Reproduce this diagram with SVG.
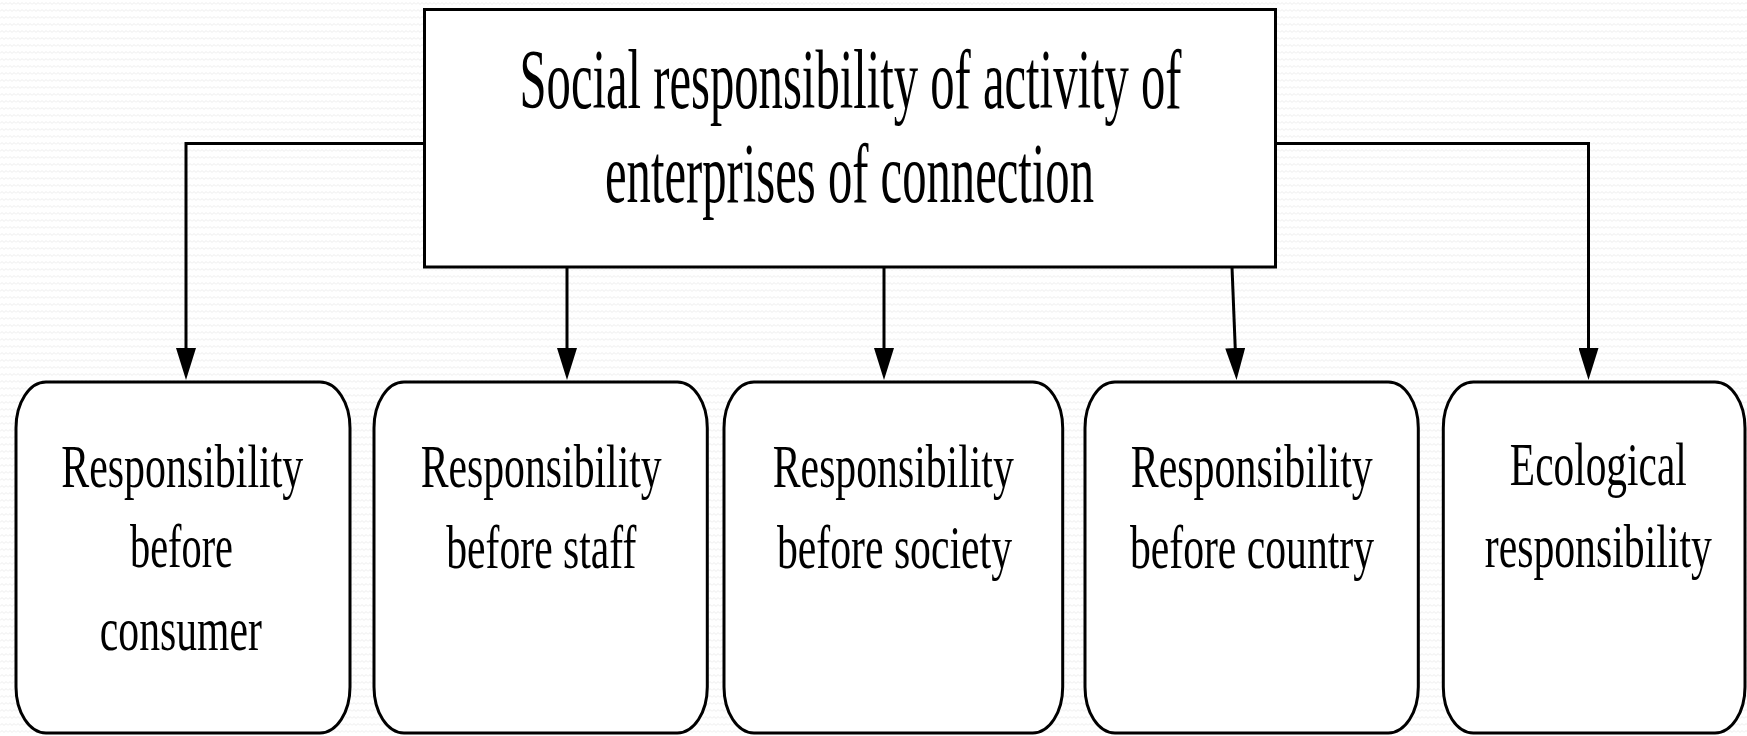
<svg xmlns="http://www.w3.org/2000/svg" width="1747" height="736" viewBox="0 0 1747 736">
<style>
.box{fill:#fff;stroke:#000;stroke-width:3}
.t1{font-family:"Liberation Serif","Times New Roman",serif;font-size:85px;fill:#000;text-anchor:middle}
.t2{font-family:"Liberation Serif","Times New Roman",serif;font-size:62px;fill:#000;text-anchor:middle}
.conn{fill:none;stroke:#000;stroke-width:3}
</style>
<defs>
<pattern id="bg" width="8" height="7" patternUnits="userSpaceOnUse">
<path d="M0,4.5 L2,2.5 L4,4.5 L6,2.5 L8,4.5" fill="none" stroke="#ececec" stroke-width="1"/>
</pattern>
<marker id="arr" markerUnits="userSpaceOnUse" viewBox="0 -10 32 20" markerWidth="32" markerHeight="20" refX="24" refY="0" orient="auto">
<path d="M0,-10 L32,0 L0,10 Z" fill="#000"/>
</marker>
</defs>
<rect width="1747" height="736" fill="#fff"/>
<rect width="1747" height="736" fill="url(#bg)"/>
<g id="connectors">
<path class="conn" d="M424.5,143.5 H186 V372" marker-end="url(#arr)"/>
<path class="conn" d="M1275.6,143.5 H1588.5 V372" marker-end="url(#arr)"/>
<path class="conn" d="M567,267 V372" marker-end="url(#arr)"/>
<path class="conn" d="M884,267 V372" marker-end="url(#arr)"/>
<path class="conn" d="M1232,267 L1236.2,372" marker-end="url(#arr)"/>
</g>
<g id="root">
<rect class="box" x="424.5" y="9.5" width="851" height="257.5"/>
<text class="t1" x="850.5" y="107.5" textLength="662" lengthAdjust="spacingAndGlyphs">Social responsibility of activity of</text>
<text class="t1" x="849.5" y="201.5" textLength="489" lengthAdjust="spacingAndGlyphs">enterprises of connection</text>
</g>
<g id="consumer">
<rect class="box" x="16" y="382" width="334" height="351" rx="30" ry="46"/>
<text class="t2" x="182.3" y="486.7" textLength="242" lengthAdjust="spacingAndGlyphs">Responsibility</text>
<text class="t2" x="181.5" y="566.7" textLength="103" lengthAdjust="spacingAndGlyphs">before</text>
<text class="t2" x="180.8" y="650" textLength="162" lengthAdjust="spacingAndGlyphs">consumer</text>
</g>
<g id="staff">
<rect class="box" x="374" y="382" width="333.3" height="351" rx="30" ry="46"/>
<text class="t2" x="541.2" y="486.7" textLength="241" lengthAdjust="spacingAndGlyphs">Responsibility</text>
<text class="t2" x="541.3" y="568" textLength="190" lengthAdjust="spacingAndGlyphs">before staff</text>
</g>
<g id="society">
<rect class="box" x="724" y="382" width="338.7" height="351" rx="30" ry="46"/>
<text class="t2" x="893.3" y="486.7" textLength="241" lengthAdjust="spacingAndGlyphs">Responsibility</text>
<text class="t2" x="894.5" y="568" textLength="235" lengthAdjust="spacingAndGlyphs">before society</text>
</g>
<g id="country">
<rect class="box" x="1085" y="382" width="333.3" height="351" rx="30" ry="46"/>
<text class="t2" x="1251.8" y="486.7" textLength="242" lengthAdjust="spacingAndGlyphs">Responsibility</text>
<text class="t2" x="1252" y="568" textLength="244" lengthAdjust="spacingAndGlyphs">before country</text>
</g>
<g id="ecological">
<rect class="box" x="1443.3" y="382" width="301.7" height="351" rx="30" ry="46"/>
<g transform="translate(1598.3,0) scale(0.67,1)">
<text class="t2" x="0" y="485" textLength="264" lengthAdjust="spacingAndGlyphs">Ecological</text>
<text class="t2" x="0" y="567" textLength="339" lengthAdjust="spacingAndGlyphs">responsibility</text>
</g>
</g>
</svg>
